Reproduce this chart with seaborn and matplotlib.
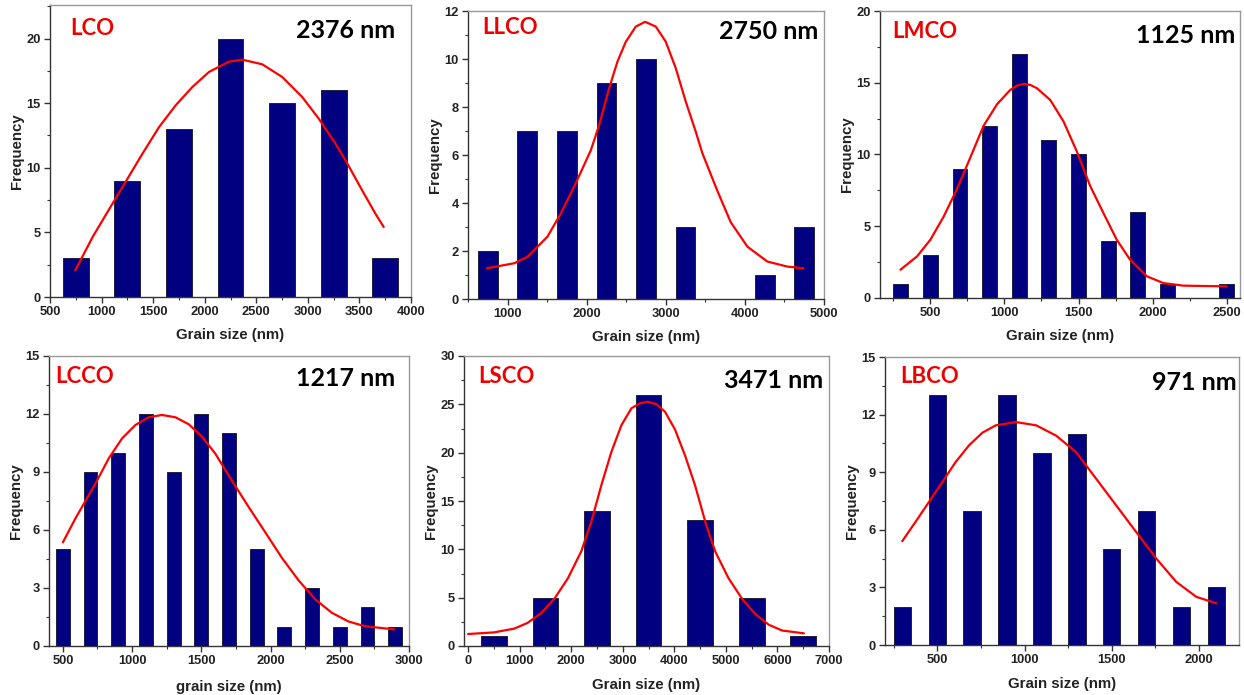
import matplotlib
matplotlib.use('Agg')
import matplotlib.pyplot as plt
import seaborn as sns
from matplotlib.ticker import MultipleLocator

sns.set_style('ticks')
plt.rcParams['font.family'] = ['Liberation Sans', 'DejaVu Sans']
plt.rcParams['font.weight'] = 'bold'
plt.rcParams['axes.labelweight'] = 'bold'

# ---------------- data ----------------
names = ['LCO', 'LLCO', 'LMCO', 'LCCO', 'LSCO', 'LBCO']
mean_labels = ['2376 nm', '2750 nm', '1125 nm', '1217 nm', '3471 nm', '971 nm']
x_labels = ['Grain size (nm)', 'Grain size (nm)', 'Grain size (nm)',
            'grain size (nm)', 'Grain size (nm)', 'Grain size (nm)']

lco_x = [750, 1250, 1750, 2250, 2750, 3250, 3750]
lco_freq = [3, 9, 13, 20, 15, 16, 3]
lco_fit_x = [745, 913, 1106, 1242, 1397, 1558, 1719, 1881, 2042, 2236, 2364,
             2558, 2751, 2945, 3106, 3268, 3365, 3526, 3655, 3735]
lco_fit_y = [2.06, 4.64, 7.23, 9.03, 11.1, 13.16, 14.84, 16.26, 17.42, 18.22, 18.37,
             18.01, 17.03, 15.48, 13.8, 11.87, 10.58, 8.26, 6.45, 5.42]

llco_x = [750, 1250, 1750, 2250, 2750, 3250, 3750, 4250, 4750]
llco_freq = [2, 7, 7, 9, 10, 3, 0, 1, 3]
llco_fit_x = [739, 1084, 1253, 1505, 1674, 1842, 2053, 2158, 2284, 2389, 2495, 2621,
              2739, 2874, 3000, 3127, 3253, 3379, 3463, 3653, 3821, 4032, 4284, 4537, 4739]
llco_fit_y = [1.28, 1.49, 1.76, 2.6, 3.57, 4.68, 6.2, 7.25, 8.78, 9.89, 10.72, 11.35,
              11.55, 11.35, 10.72, 9.61, 8.22, 6.97, 6.07, 4.5, 3.2, 2.18, 1.56, 1.35, 1.28]

lmco_x = [300, 500, 700, 900, 1100, 1300, 1500, 1700, 1900, 2100, 2300, 2500]
lmco_freq = [1, 3, 9, 12, 17, 11, 10, 4, 6, 1, 0, 1]
lmco_fit_x = [298, 410, 500, 590, 680, 770, 859, 950, 1039, 1084, 1129, 1174, 1219,
              1309, 1399, 1489, 1579, 1669, 1758, 1848, 1961, 2073, 2208, 2500]
lmco_fit_y = [1.97, 2.9, 4.06, 5.68, 7.6, 9.8, 12.0, 13.5, 14.5, 14.8, 14.92, 14.85, 14.62,
              13.8, 12.3, 10.2, 7.8, 5.9, 4.06, 2.67, 1.51, 1.04, 0.86, 0.81]

lcco_x = [500, 700, 900, 1100, 1300, 1500, 1700, 1900, 2100, 2300, 2500, 2700, 2900]
lcco_freq = [5, 9, 10, 12, 9, 12, 11, 5, 1, 3, 1, 2, 1]
lcco_fit_x = [500, 591, 688, 736, 832, 928, 1024, 1120, 1216, 1313, 1409, 1505, 1601,
              1721, 1841, 1962, 2082, 2202, 2322, 2442, 2562, 2683, 2894]
lcco_fit_y = [5.36, 6.6, 7.81, 8.41, 9.71, 10.74, 11.43, 11.83, 11.95, 11.83, 11.47, 10.83, 9.95,
              8.55, 7.2, 5.88, 4.56, 3.4, 2.42, 1.72, 1.27, 1.02, 0.86]

lsco_x = [500, 1500, 2500, 3500, 4500, 5500, 6500]
lsco_freq = [1, 5, 14, 26, 13, 5, 1]
lsco_fit_x = [0, 506, 896, 1156, 1416, 1675, 1935, 2195, 2390, 2585, 2780, 2975, 3169,
              3331, 3481, 3656, 3818, 4013, 4208, 4403, 4598, 4700, 4800, 5052, 5312,
              5571, 5831, 6091, 6513]
lsco_fit_y = [1.24, 1.41, 1.8, 2.4, 3.4, 4.9, 7.0, 9.8, 12.86, 16.65, 20.1, 22.86, 24.6,
              25.1, 25.27, 25.0, 24.24, 22.4, 19.7, 16.6, 12.9, 11.2, 9.7, 7.0, 4.9,
              3.3, 2.2, 1.6, 1.31]

lbco_x = [300, 500, 700, 900, 1100, 1300, 1500, 1700, 1900, 2100]
lbco_freq = [2, 13, 7, 13, 10, 11, 5, 7, 2, 3]
lbco_fit_x = [299, 375, 452, 529, 605, 682, 759, 835, 952, 1067, 1182, 1295,
              1410, 1525, 1640, 1755, 1870, 1985, 2100]
lbco_fit_y = [5.41, 6.41, 7.45, 8.49, 9.53, 10.4, 11.06, 11.44, 11.61, 11.44, 10.9, 10.05,
              8.67, 7.28, 5.89, 4.51, 3.29, 2.51, 2.17]

bars_x = [lco_x, llco_x, lmco_x, lcco_x, lsco_x, lbco_x]
bars_y = [lco_freq, llco_freq, lmco_freq, lcco_freq, lsco_freq, lbco_freq]
fits_x = [lco_fit_x, llco_fit_x, lmco_fit_x, lcco_fit_x, lsco_fit_x, lbco_fit_x]
fits_y = [lco_fit_y, llco_fit_y, lmco_fit_y, lcco_fit_y, lsco_fit_y, lbco_fit_y]

# ---------------- layout ----------------
W, H = 1244, 695
boxes = [(50, 5, 411, 297), (468, 11, 824, 299), (880, 11, 1240, 298),
         (49, 356, 409, 646), (464, 356, 829, 646), (885, 357, 1239, 645)]
xlims = [(500, 4000), (500, 5000), (160, 2590), (400, 3000), (-80, 7000), (200, 2230)]
ylims = [(0, 22.6), (0, 12), (0, 20), (0, 15), (0, 30), (0, 15)]
x_major = [500, 1000, 500, 500, 1000, 500]
y_major = [5, 2, 5, 3, 5, 3]
xlabel_pads = [7, 7, 7, 9, 8, 8]
name_pos = [(0.055, 0.918), (0.039, 0.941), (0.033, 0.93),
            (0.017, 0.929), (0.038, 0.931), (0.042, 0.934)]
mean_pos = [(0.956, 0.911), (0.983, 0.93), (0.986, 0.916),
            (0.961, 0.921), (0.984, 0.914), (0.994, 0.91)]

fig = plt.figure(figsize=(W / 100, H / 100), dpi=100)

for i in range(6):
    l, t, r, b = boxes[i]
    ax = fig.add_axes([l / W, (H - b) / H, (r - l) / W, (b - t) / H])
    sns.barplot(x=bars_x[i], y=bars_y[i], native_scale=True, width=0.5,
                color='#000080', saturation=1, edgecolor='#202040',
                linewidth=0.7, errorbar=None, ax=ax)
    sns.lineplot(x=fits_x[i], y=fits_y[i], color='#ff0000', linewidth=1.6, ax=ax)
    ax.set_xlim(*xlims[i])
    ax.set_ylim(*ylims[i])
    ax.xaxis.set_major_locator(MultipleLocator(x_major[i]))
    ax.xaxis.set_minor_locator(MultipleLocator(x_major[i] / 2))
    ax.yaxis.set_major_locator(MultipleLocator(y_major[i]))
    ax.yaxis.set_minor_locator(MultipleLocator(y_major[i] / 2))
    ax.tick_params(which='major', direction='out', length=4, width=1,
                   labelsize=9.3, colors='#333333', labelcolor='#222222', pad=2.5)
    ax.tick_params(which='minor', direction='out', length=2.5, width=0.8,
                   colors='#333333')
    for sp in ['left', 'bottom']:
        ax.spines[sp].set_color('#333333')
        ax.spines[sp].set_linewidth(1.0)
    for sp in ['top', 'right']:
        ax.spines[sp].set_visible(True)
        ax.spines[sp].set_color('#999999')
        ax.spines[sp].set_linewidth(1.0)
    ax.set_xlabel(x_labels[i], fontsize=10.8, labelpad=xlabel_pads[i], color='#222222')
    ax.set_ylabel('Frequency', fontsize=10.8, labelpad=2, color='#222222')
    ax.text(name_pos[i][0], name_pos[i][1], names[i], transform=ax.transAxes,
            ha='left', va='center', color='#ee0000', fontsize=16,
            fontweight='bold', family=['Lato', 'DejaVu Sans'])
    ax.text(mean_pos[i][0], mean_pos[i][1], mean_labels[i], transform=ax.transAxes,
            ha='right', va='center', color='black', fontsize=18,
            fontweight='bold', family=['Lato', 'DejaVu Sans'])

fig.savefig('out.png', dpi=100)
